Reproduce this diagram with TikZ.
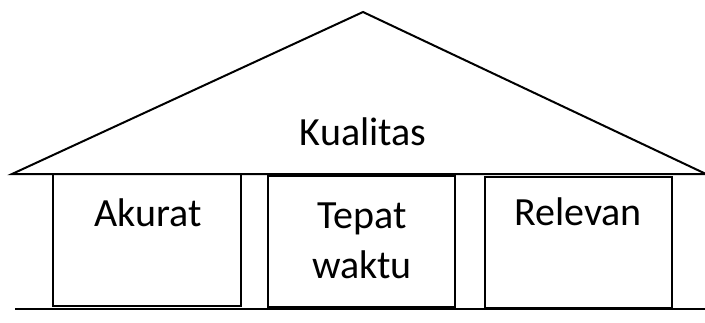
\documentclass[tikz,border=0pt]{standalone}
\usepackage{fontspec}
\setmainfont{Carlito}
\tikzset{
	roof/.style={line width=1.5pt,line join=miter},
	pillar/.style={line width=1.1pt},
	label/.style={anchor=base,inner sep=0pt}
}
\begin{document}
\begin{tikzpicture}[x=0.75pt,y=-0.75pt,font=\fontsize{30}{36}\selectfont]
		\useasboundingbox (0,0) rectangle (705,322);
		% atap
		\draw[roof] (12,174)--(363,12)--(706,174)--cycle;
		\node[label] (kualitas) at (363,145) {Kualitas};
		% tiang
		\draw[pillar] (53,174) rectangle (241,306);
		\draw[pillar] (268,176) rectangle (455,307);
		\draw[pillar] (485,177) rectangle (672,308);
		\node[label] (akurat) at (148,226) {Akurat};
		\node[label] (tepat) at (362,228) {Tepat};
		\node[label] (waktu) at (362,278) {waktu};
		\node[label] (relevan) at (578,225) {Relevan};
		% lantai
		\draw[roof] (15,309)--(706,309);
		\end{tikzpicture}
\end{document}
